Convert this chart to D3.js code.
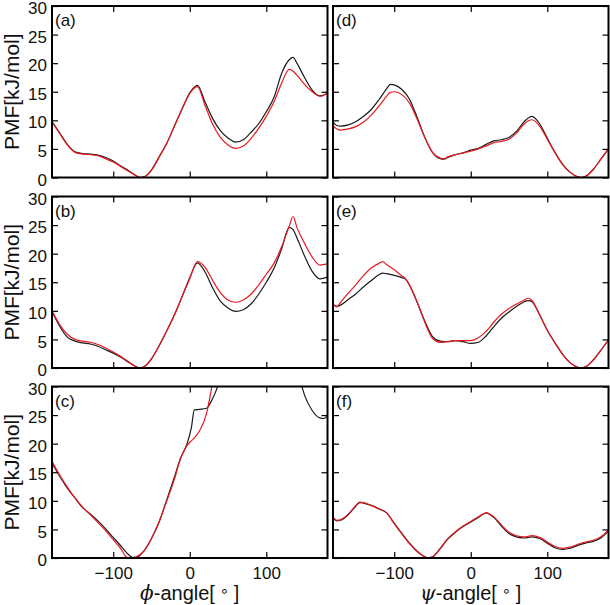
<!DOCTYPE html>
<html><head><meta charset="utf-8">
<script src="https://cdn.jsdelivr.net/npm/d3@7"></script>
<style>body{margin:0;background:#fff}svg{display:block}</style>
</head><body>
<svg id="chart" width="610" height="605"></svg>
<script>
// ---- data ----
const anglesAB = [-180,-170,-160,-150,-140,-130,-120,-110,-100,-90,-80,-70,-65,-60,-50,-40,-30,-20,-10,0,10,20,30,40,50,60,70,80,90,100,110,120,130,135,140,150,160,170,180];
const aBlack = [9.8,7.8,5.8,4.5,4.2,4.1,3.9,3.5,2.9,2.0,1.2,0.3,0.0,0.1,1.3,3.6,6.0,9.0,12.0,14.8,16.1,13.2,10.3,8.2,6.9,6.2,6.6,7.9,9.4,11.5,14.0,18.2,20.6,21.0,20.0,17.5,15.3,14.3,14.7];
const aRed   = [9.7,7.7,5.7,4.4,4.1,4.0,3.8,3.3,2.7,1.9,1.1,0.3,0.0,0.1,1.3,3.6,6.0,9.0,12.0,14.7,15.9,12.6,9.3,7.0,5.7,5.1,5.5,6.8,8.6,10.7,13.2,16.5,18.9,18.6,17.9,16.3,15.0,14.2,14.8];
const bBlack = [9.9,7.3,5.4,4.7,4.4,4.2,3.8,3.2,2.6,1.9,1.0,0.2,0.0,0.2,1.6,3.9,6.5,9.3,12.5,15.8,18.4,16.8,14.0,11.7,10.5,9.9,10.2,11.2,12.9,15.0,17.4,20.8,24.6,24.2,22.8,19.6,16.9,15.6,15.9];
const bRed   = [10.0,7.6,5.9,5.0,4.7,4.5,4.1,3.5,2.8,2.0,1.1,0.2,0.0,0.2,1.6,3.9,6.5,9.3,12.5,15.6,18.6,17.6,15.3,13.2,11.9,11.5,11.9,12.9,14.5,16.4,18.3,21.2,24.8,26.5,24.6,21.8,19.4,18.0,18.2];

const anglesC = [-180,-170,-160,-150,-140,-130,-120,-110,-100,-90,-85,-80,-75,-70,-60,-50,-40,-30,-20,-12,-4,2,6,13,22,28,33,37,45,60,90,120,135,146,150,160,170,175,180];
const cBlack = [16.6,14.3,12.2,10.5,8.8,7.7,6.5,5.1,3.6,2.1,1.3,0.6,0.1,0.1,1.2,3.4,6.3,10.2,14.2,17.5,19.8,22.7,25.9,26.0,26.2,27.4,28.8,30.2,34,40,45,40,34,30.2,28.5,25.8,24.5,24.4,25.0];
const cRed   = [16.9,14.5,12.4,10.5,8.9,7.6,6.2,4.8,3.2,1.6,0.5,0.0,0.0,0.2,1.2,3.4,6.4,10.0,13.8,17.4,19.6,20.5,21.0,22.3,25.3,29.3,33,36,40,45,50,50,45,42,40,38,37,37,37];

const anglesD = [-180,-175,-170,-160,-150,-140,-130,-120,-110,-105,-100,-90,-80,-70,-60,-50,-40,-35,-30,-20,-10,0,10,20,30,40,50,60,70,80,90,100,110,120,130,140,145,150,160,170,180];
const dBlack = [9.7,9.1,9.0,9.2,9.8,10.7,11.9,13.6,15.5,16.3,16.2,15.4,13.7,10.5,7.0,4.4,3.3,3.2,3.5,4.0,4.3,4.8,5.1,5.8,6.4,6.6,7.0,8.1,9.8,10.7,9.4,6.9,4.4,2.3,0.9,0.1,0.0,0.2,1.4,3.2,5.0];
const dRed   = [9.0,8.5,8.3,8.5,8.9,9.7,10.9,12.5,14.2,14.9,15.0,14.5,13.0,10.2,7.0,4.4,3.4,3.3,3.6,4.0,4.3,4.6,5.0,5.5,6.1,6.3,6.7,7.8,9.4,10.1,9.0,6.7,4.4,2.3,0.9,0.1,0.0,0.2,1.4,3.2,5.0];

const anglesE = [-180,-175,-170,-160,-150,-140,-130,-120,-115,-110,-100,-90,-85,-80,-70,-60,-50,-40,-30,-20,-10,0,10,20,30,40,50,60,70,75,80,90,100,110,120,130,140,145,150,160,170,180];
const eBlack = [11.1,10.8,11.0,12.0,13.0,14.2,15.3,16.3,16.6,16.5,16.2,15.8,15.5,14.5,11.5,8.2,5.5,4.7,4.6,4.8,4.6,4.3,4.5,5.6,7.2,8.7,9.8,10.8,11.6,11.8,11.6,9.3,6.6,4.4,2.4,0.9,0.1,0.0,0.2,1.4,3.1,4.9];
const eRed   = [11.1,10.7,11.5,13.1,14.6,16.2,17.5,18.3,18.6,18.1,17.2,16.1,15.6,14.5,11.5,8.0,5.2,4.5,4.6,4.8,4.8,4.8,5.3,6.4,8.0,9.4,10.4,11.2,11.9,12.2,11.8,9.3,6.6,4.4,2.4,0.9,0.1,0.0,0.2,1.4,3.1,4.9];

const anglesF = [-180,-175,-170,-160,-150,-145,-140,-130,-120,-110,-100,-90,-80,-70,-60,-55,-50,-40,-30,-20,-10,0,10,20,30,40,50,60,70,80,90,100,110,120,130,140,150,160,170,180];
const fBlack = [7.0,6.5,6.6,7.6,9.1,9.7,9.6,9.2,8.6,7.9,6.1,4.3,2.6,1.2,0.2,0.0,0.2,1.6,3.3,4.5,5.5,6.3,7.1,7.9,7.1,5.6,4.3,3.7,3.5,3.7,3.4,2.6,1.8,1.5,1.7,2.2,2.6,2.9,3.5,4.7];
const fRed   = [7.2,6.6,6.7,7.7,9.2,9.8,9.7,9.2,8.6,7.9,6.0,4.2,2.5,1.1,0.2,0.0,0.2,1.7,3.4,4.6,5.6,6.4,7.2,7.9,7.2,5.8,4.5,3.9,3.7,3.9,3.6,2.8,2.0,1.7,1.9,2.4,2.8,3.1,3.7,4.9];

const panelLabels = ["(a)","(b)","(c)","(d)","(e)","(f)"];
const xTicks = [-100, 0, 100];
const yTicks = [0, 5, 10, 15, 20, 25, 30];
const yLabel = "PMF[kJ/mol]";

// ---- layout ----
const svg = d3.select("#chart");
const colX = [52, 333];
const rowY = [6, 196.5, 386.5];
const pw = 275.5, ph = 171.5;
const font = "'Liberation Sans', Arial, Helvetica, sans-serif";

const panels = [
  {lab: panelLabels[0], col:0,row:0, x:anglesAB, black:aBlack, red:aRed},
  {lab: panelLabels[1], col:0,row:1, x:anglesAB, black:bBlack, red:bRed},
  {lab: panelLabels[2], col:0,row:2, x:anglesC, black:cBlack, red:cRed},
  {lab: panelLabels[3], col:1,row:0, x:anglesD, black:dBlack, red:dRed},
  {lab: panelLabels[4], col:1,row:1, x:anglesE, black:eBlack, red:eRed},
  {lab: panelLabels[5], col:1,row:2, x:anglesF, black:fBlack, red:fRed}
];

const x = d3.scaleLinear().domain([-180,180]).range([0,pw]);
const y = d3.scaleLinear().domain([0,30]).range([ph,0]);

const defs = svg.append("defs");
defs.append("clipPath").attr("id","clip").append("rect")
  .attr("x",0).attr("y",0).attr("width",pw).attr("height",ph);

panels.forEach((p,i)=>{
  const g = svg.append("g").attr("transform",`translate(${colX[p.col]},${rowY[p.row]})`);
  const line = d3.line().x((d)=>x(d[0])).y(d=>y(d[1])).curve(d3.curveMonotoneX);
  const plot = g.append("g").attr("clip-path","url(#clip)");
  plot.append("path").datum(p.x.map((a,k)=>[a,p.black[k]]))
    .attr("d",line).attr("fill","none").attr("stroke","#1a1a1a").attr("stroke-width",1.2);
  plot.append("path").datum(p.x.map((a,k)=>[a,p.red[k]]))
    .attr("d",line).attr("fill","none").attr("stroke","#e8191f").attr("stroke-width",1.2);

  // ticks inside on all sides
  const tickLen = 6;
  const bottom = d3.axisBottom(x).tickValues(xTicks).tickSizeInner(-tickLen).tickSizeOuter(0)
    .tickFormat(p.row===2 ? (d=>d3.format("d")(d).replace("-","\u2212")) : "");
  const top = d3.axisTop(x).tickValues(xTicks).tickSizeInner(-tickLen).tickSizeOuter(0).tickFormat("");
  const left = d3.axisLeft(y).tickValues(yTicks).tickSizeInner(-tickLen).tickSizeOuter(0)
    .tickFormat(p.col===0 ? d3.format("d") : "");
  const right = d3.axisRight(y).tickValues(yTicks).tickSizeInner(-tickLen).tickSizeOuter(0).tickFormat("");

  const gb = g.append("g").attr("transform",`translate(0,${ph})`).call(bottom);
  const gt = g.append("g").call(top);
  const gl = g.append("g").call(left);
  const gr = g.append("g").attr("transform",`translate(${pw},0)`).call(right);
  [gb,gt,gl,gr].forEach(a=>{
    a.select(".domain").remove();
    a.selectAll(".tick line").attr("stroke","#000").attr("stroke-width",1.2);
    a.selectAll("text").attr("font-family",font).attr("font-size",17).attr("fill","#111");
  });
  gb.selectAll("text").attr("dy","0.71em").attr("y",9);
  gl.selectAll("text").attr("x",-5).attr("dy","0.45em");

  g.append("rect").attr("x",0).attr("y",0).attr("width",pw).attr("height",ph)
    .attr("fill","none").attr("stroke","#000").attr("stroke-width",2);

  g.append("text").attr("x",3).attr("y",20).text(p.lab)
    .attr("font-family",font).attr("font-size",17).attr("fill","#111");

  if (p.col===0) {
    svg.append("text")
      .attr("transform",`translate(19,${rowY[p.row]+ph/2}) rotate(-90)`)
      .attr("text-anchor","middle").attr("font-family",font).attr("font-size",21).attr("fill","#111")
      .text(yLabel);
  }
});

// x axis labels
function xLabel(cx, sym){
  const t = svg.append("text").attr("x",cx).attr("y",600).attr("text-anchor","middle")
    .attr("font-family",font).attr("font-size",20).attr("fill","#111");
  t.append("tspan").attr("font-family","'DejaVu Serif', serif").attr("font-style","italic").text(sym);
  t.append("tspan").text("-angle[");
  t.append("tspan").attr("font-family","'DejaVu Sans', sans-serif").attr("font-size",15).attr("dy",-4).text(" \u2218 ");
  t.append("tspan").attr("dy",4).text("]");
}
xLabel(colX[0]+pw/2, "\u03D5");
xLabel(colX[1]+pw/2, "\u03C8");
</script>
</body></html>
